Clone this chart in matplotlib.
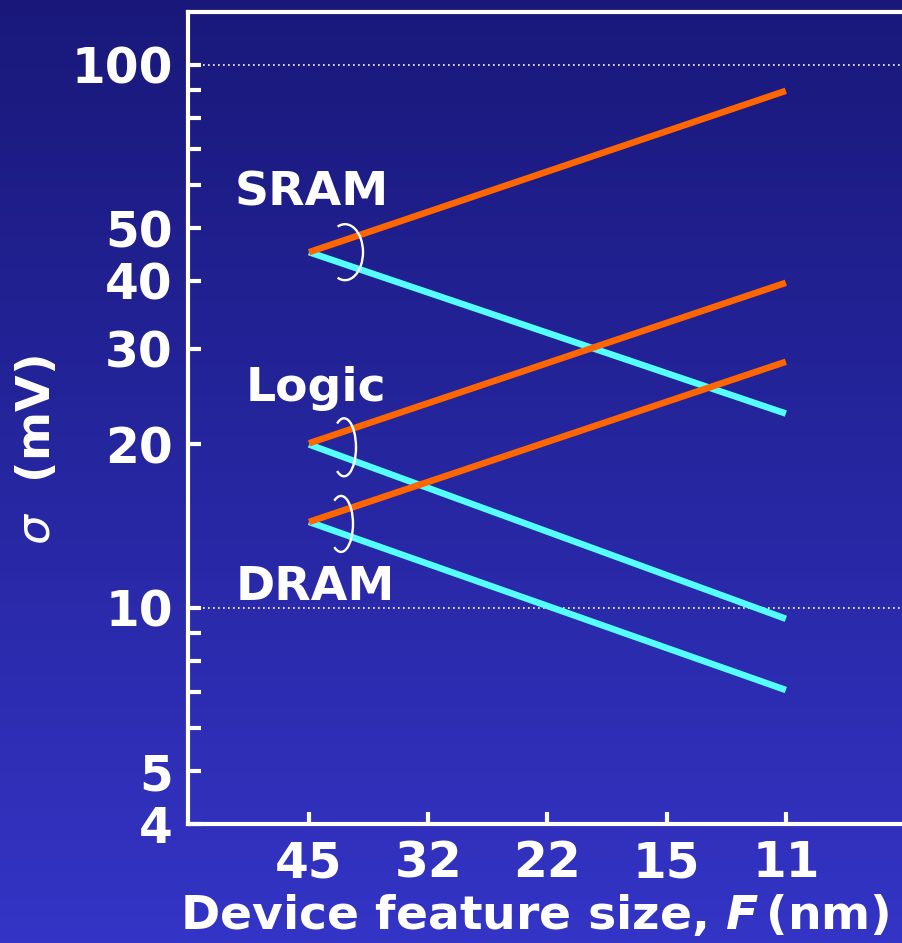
import numpy as np
import matplotlib
matplotlib.use("Agg")
import matplotlib.pyplot as plt
from matplotlib.colors import LinearSegmentedColormap
from matplotlib.patches import Arc

# ---- data ----
feature_sizes = ["45", "32", "22", "15", "11"]
endpoints_idx = [0, 4]
sram_upper = [45.2, 89.6]
sram_lower = [45.2, 22.8]
logic_upper = [20.1, 39.7]
logic_lower = [20.0, 9.55]
dram_upper = [14.4, 28.4]
dram_lower = [14.4, 7.06]
group_names = ["SRAM", "Logic", "DRAM"]
ytick_major = [4, 5, 10, 20, 30, 40, 50, 100]
ytick_minor = [6, 7, 8, 9, 60, 70, 80, 90]

ORANGE = "#ff6600"
CYAN = "#55ffff"
W = 902
H = 943

plt.rcParams['font.family'] = ['DejaVu Sans']
plt.rcParams['mathtext.fontset'] = 'dejavusans'

fig = plt.figure(figsize=(W / 100, H / 100), dpi=100)

# gradient background
bg = fig.add_axes([0, 0, 1, 1], zorder=-10)
grad = np.linspace(0, 1, 256).reshape(-1, 1)
cmap = LinearSegmentedColormap.from_list("bg", ["#19187a", "#2626a0", "#3434c6"])
bg.imshow(grad, aspect="auto", cmap=cmap, extent=[0, 1, 0, 1], origin="upper")
bg.set_axis_off()

AX_L, AX_B, AX_T = 188, 824, 12
ax = fig.add_axes([AX_L / W, 1 - AX_B / H, 1 - AX_L / W + 0.01, (AX_B - AX_T) / H])
ax.set_facecolor("none")
ax.set_yscale("log")
ax.set_ylim(4, 4 * 10 ** ((AX_B - AX_T) / 543))
ax.set_xlim(-1.015, 5.05)

lw = 4.7
x = endpoints_idx
ax.plot(x, sram_lower, color=CYAN, lw=lw, solid_capstyle="butt", zorder=3)
ax.plot(x, sram_upper, color=ORANGE, lw=lw, solid_capstyle="butt", zorder=4)
ax.plot(x, logic_lower, color=CYAN, lw=lw, solid_capstyle="butt", zorder=3)
ax.plot(x, logic_upper, color=ORANGE, lw=lw, solid_capstyle="butt", zorder=4)
ax.plot(x, dram_lower, color=CYAN, lw=lw, solid_capstyle="butt", zorder=3)
ax.plot(x, dram_upper, color=ORANGE, lw=lw, solid_capstyle="butt", zorder=4)

# spines
for s in ["left", "bottom", "top"]:
    ax.spines[s].set_color("white")
    ax.spines[s].set_linewidth(3)
ax.spines["right"].set_visible(False)

# ticks
ax.set_xticks(range(len(feature_sizes)))
ax.set_xticklabels(feature_sizes)
ax.set_yticks(ytick_major)
ax.set_yticklabels([str(v) for v in ytick_major])
ax.set_yticks(ytick_minor, minor=True)
ax.yaxis.set_minor_formatter(matplotlib.ticker.NullFormatter())
ax.tick_params(axis="both", which="both", direction="in", color="white",
               width=3, length=9, labelcolor="white", labelsize=35)
ax.tick_params(axis="y", which="both", pad=11, left=True, right=False)
ax.tick_params(axis="x", pad=11, top=False)
for lab in ax.get_xticklabels() + ax.get_yticklabels():
    lab.set_fontweight("bold")

# dotted gridlines at decades
for v in [10, 100]:
    ax.axhline(v, color="white", lw=1.2, ls=(0, (1, 2)), zorder=2)

# axis labels
fig.text(535 / W, 1 - 916 / H, r"Device feature size, $\mathbfit{F}\,$(nm)",
         color="white", fontsize=34, fontweight="bold", ha="center", va="center")
fig.text(38 / W, 1 - 450 / H, r"$\sigma$  (mV)", color="white", fontsize=34,
         fontweight="bold", rotation=90, ha="center", va="center")

# group labels and bracket arcs
def to_axes(xd, yd):
    return ax.transAxes.inverted().transform(ax.transData.transform((xd, yd)))

label_y = [58.1, 25.4, 10.9]
label_x = [0.02, 0.06, 0.05]
starts = [sram_upper[0], logic_upper[0], dram_upper[0]]
arc_dx_px = [36, 35, 32]
arc_dy_px = [0, -4, -2]
arc_h = [56, 58, 56]
arc_w = [36, 24, 24]
axw_px = ax.bbox.width
axh_px = ax.bbox.height
for name, lx, ly, y0, dx, dy, ah, aw in zip(group_names, label_x, label_y, starts,
                                             arc_dx_px, arc_dy_px, arc_h, arc_w):
    ax.text(lx, ly, name, color="white", fontsize=34, fontweight="bold",
            ha="center", va="center", zorder=6)
    cx, cy = to_axes(0, y0)
    cx += dx / axw_px
    cy += dy / axh_px
    arc = Arc((cx, cy), aw / axw_px, ah / axh_px, theta1=-108, theta2=108,
              transform=ax.transAxes, color="white", lw=1.7, zorder=5)
    ax.add_patch(arc)

fig.savefig("out.png", dpi=100)
